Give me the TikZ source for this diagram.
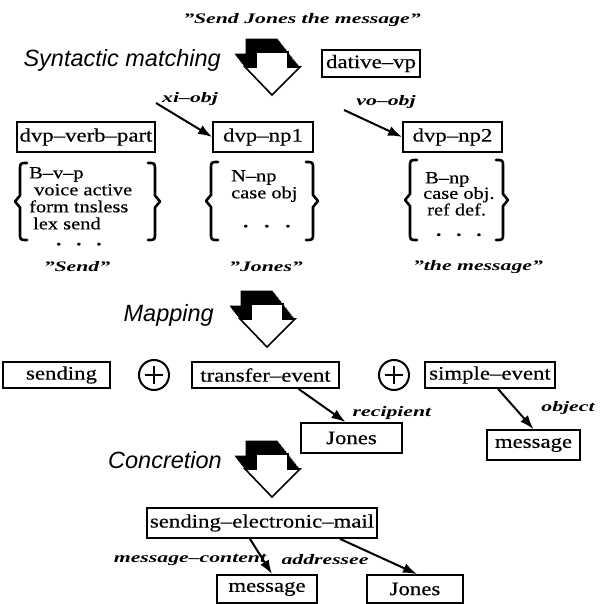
\documentclass[tikz,border=0pt]{standalone}
\usepackage{fontspec}
\usetikzlibrary{arrows.meta}
\newfontfamily\bxf{Liberation Serif}[Ligatures=TeX,FakeStretch=1.2,FakeBold=0.4]
\newfontfamily\lbf{Liberation Serif}[Ligatures=TeX,FakeStretch=1.5]
\newfontfamily\hdf{Liberation Sans}
% big 3D block arrow, tip at (#1,#2)
\newcommand{\bigarr}[2]{%
\begin{scope}[shift={(#1,#2)}]
 \foreach \t in {0,0.05,...,1.0}{%
  \fill[black,shift={(-11*\t,-14*\t)}] (-16,-43) -- (16,-43) -- (16,-28) -- (28,-28) -- (0,0) -- (-27,-28) -- (-16,-28) -- cycle;}
 \filldraw[fill=white,draw=black,line width=1.6pt,line join=miter] (-16,-43) -- (16,-43) -- (16,-28) -- (28,-28) -- (0,0) -- (-27,-28) -- (-16,-28) -- cycle;
\end{scope}}
% left brace: point x, top, bottom
\newcommand{\mylbr}[3]{%
 \pgfmathsetmacro\mm{(#2+#3)/2}
 \draw[brk] (#1+12,#2) .. controls (#1+5,#2) .. (#1+5,#2+7) -- (#1+5,\mm-6) -- (#1,\mm) -- (#1+5,\mm+6) -- (#1+5,#3-7) .. controls (#1+5,#3) .. (#1+12,#3);}
\newcommand{\myrbr}[3]{%
 \pgfmathsetmacro\mm{(#2+#3)/2}
 \draw[brk] (#1-12,#2) .. controls (#1-5,#2) .. (#1-5,#2+7) -- (#1-5,\mm-6) -- (#1,\mm) -- (#1-5,\mm+6) -- (#1-5,#3-7) .. controls (#1-5,#3) .. (#1-12,#3);}
\newcommand{\fdots}[1]{\textbf{.}\hspace{#1}\textbf{.}\hspace{#1}\textbf{.}}
\begin{document}
\begin{tikzpicture}[x=1pt,y=-1pt,
  bx/.style={draw,line width=1.8pt,inner sep=0pt,font=\bxf\fontsize{19}{20}\selectfont},
  feat/.style={inner sep=0pt,align=left,anchor=north west,font=\bxf\fontsize{17}{17}\selectfont},
  lbl/.style={inner sep=0pt,font=\lbf\bfseries\itshape\fontsize{14.5}{16}\selectfont},
  hd/.style={inner sep=0pt,anchor=base east,font=\hdf\itshape\fontsize{23.5}{26}\selectfont},
  arr/.style={line width=2pt,-{Latex[length=14pt,width=10pt]}},
  brk/.style={line width=2.6pt,line cap=round,line join=round},
  plus/.style={draw,circle,line width=2pt,minimum size=30pt,inner sep=0pt}]
\useasboundingbox (0,0) rectangle (608,604);
\fill[white] (0,0) rectangle (608,604);

% ---- syntactic matching
\node[lbl] (title) at (302,20) {''Send Jones the message''};
\node[hd] (syn) at (221,67) {Syntactic matching};
\bigarr{272}{95}
\node[bx,minimum width=98pt,minimum height=27pt] (dat) at (371,63.5) {dative--vp};

\node[bx,minimum width=138pt,minimum height=30pt] (vp) at (86,137) {dvp--verb--part};
\node[bx,minimum width=100pt,minimum height=30pt] (np1) at (263,137) {dvp--np1};
\node[bx,minimum width=99pt,minimum height=30pt] (np2) at (452.5,137) {dvp--np2};

\coordinate (xis) at (156,103);
\coordinate (vos) at (344,110);
\draw[arr] (xis) -- (np1.west);
\draw[arr] (vos) -- (np2.west);
\node[lbl] (xil) at (190,99) {xi--obj};
\node[lbl] (vol) at (386,102) {vo--obj};

\node[feat] (f1) at (29,167) {B--v--p\\\hspace*{5pt}voice active\\form tnsless\\\hspace*{4pt}lex send\\[-1pt]\hspace*{27pt}\fdots{15pt}};
\mylbr{15}{163}{240}\myrbr{160}{163}{240}
\node[feat] (f2) at (231,170) {N--np\\case obj\\[12pt]\hspace*{12pt}\fdots{16pt}};
\mylbr{206}{162}{240}\myrbr{318}{162}{240}
\node[feat,font=\bxf\fontsize{17}{15.5}\selectfont] (f3) at (423,172) {\hspace*{2pt}B--np\\case obj.\\\hspace*{4pt}ref def.\\[5pt]\hspace*{13pt}\fdots{15pt}};
\mylbr{405}{160}{240}\myrbr{508}{160}{240}

\node[lbl] (ls) at (77,267) {''Send''};
\node[lbl] (lj) at (266,267) {''Jones''};
\node[lbl] (lm) at (478,267) {''the message''};

% ---- mapping
\node[hd] (map) at (214,321) {Mapping};
\bigarr{267}{347}
\node[bx,minimum width=107pt,minimum height=26pt] (snd) at (56.5,375) {\hspace*{10pt}sending};
\node[plus] (p1) at (154,375) {};
\draw[line width=2.6pt] ([xshift=-9pt]p1.center) -- ([xshift=9pt]p1.center);
\draw[line width=2.6pt] ([yshift=-9pt]p1.center) -- ([yshift=9pt]p1.center);
\node[bx,minimum width=147pt,minimum height=26pt] (tr) at (265.5,375) {transfer--event};
\node[plus] (p2) at (394,375) {};
\draw[line width=2.6pt] ([xshift=-9pt]p2.center) -- ([xshift=9pt]p2.center);
\draw[line width=2.6pt] ([yshift=-9pt]p2.center) -- ([yshift=9pt]p2.center);
\node[bx,minimum width=130pt,minimum height=26pt] (se) at (490,375) {simple--event};

\node[bx,minimum width=101pt,minimum height=30pt] (j1) at (351.5,438) {Jones};
\node[bx,minimum width=93pt,minimum height=30pt] (m1) at (533.5,445) {message};
\draw[arr] ([xshift=33pt]tr.south) -- ([xshift=-6pt]j1.north);
\draw[arr] ([xshift=8pt]se.south) -- (m1.north);
\node[lbl] (rl) at (392,413) {recipient};
\node[lbl] (ol) at (568,408) {object};

% ---- concretion
\node[hd] (con) at (222,468) {Concretion};
\bigarr{272}{497}
\node[bx,minimum width=230pt,minimum height=30pt] (sem) at (262,523) {sending--electronic--mail};
\node[bx,minimum width=100pt,minimum height=28pt] (m2) at (267,589) {message};
\node[bx,minimum width=96pt,minimum height=28pt] (j2) at (415,589) {Jones};
\draw[arr] ([xshift=-12pt]sem.south) -- ([xshift=5pt]m2.north);
\draw[arr] ([xshift=78pt]sem.south) -- ([xshift=2pt]j2.north);
\node[lbl] (mcl) at (190,560) {message--content};
\node[lbl] (adl) at (325,560) {addressee};
\end{tikzpicture}
\end{document}
